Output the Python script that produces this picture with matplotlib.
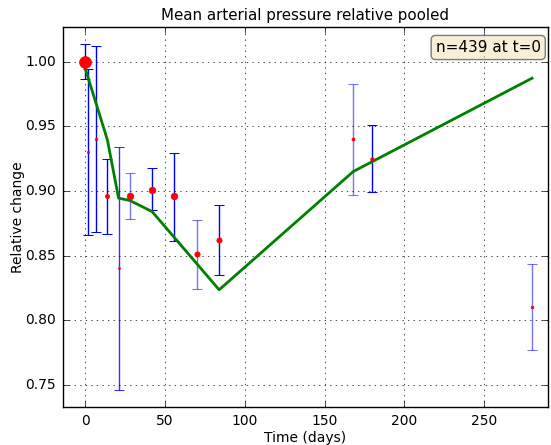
import matplotlib
matplotlib.use("Agg")
import matplotlib.pyplot as plt
import numpy as np

plt.style.use('classic')

# error-bar data
days = [0, 2, 7, 14, 21, 28, 42, 56, 70, 84, 168, 180, 280]
mean_change = [1.000, 0.930, 0.940, 0.896, 0.840, 0.896, 0.901, 0.896, 0.851, 0.862, 0.940, 0.925, 0.810]
err_low = [0.9866, 0.866, 0.868, 0.867, 0.746, 0.878, 0.8855, 0.8615, 0.8243, 0.835, 0.897, 0.899, 0.777]
err_high = [1.0139, 0.9943, 1.0124, 0.9247, 0.934, 0.9139, 0.9177, 0.9298, 0.8772, 0.8888, 0.983, 0.9515, 0.8431]

# model line
model_days = [0, 14, 21, 28, 42, 84, 168, 280]
model_change = [0.9954, 0.9396, 0.8945, 0.8927, 0.8841, 0.8235, 0.9151, 0.9874]

# styling per point
marker_sizes = [8.6, 1.6, 1.8, 3.0, 1.4, 4.8, 4.8, 4.8, 3.8, 3.8, 2.2, 2.6, 2.0]
bar_alpha = [1.0, 1.0, 1.0, 1.0, 0.8, 0.55, 1.0, 1.0, 0.55, 1.0, 0.55, 1.0, 0.55]

fig = plt.figure(figsize=(5.51, 4.45), dpi=100, facecolor='white')
ax = fig.add_axes([62.7/551, 1 - 407/445, (548 - 62.7)/551, (407 - 26.7)/445])

for x, y, lo, hi, ms, a in zip(days, mean_change, err_low, err_high, marker_sizes, bar_alpha):
    ax.errorbar([x], [y], yerr=[[y - lo], [hi - y]], fmt='none', ecolor='blue',
                elinewidth=1, capsize=0, alpha=a, zorder=2)
    ax.plot([x, x], [lo, hi], linestyle='none', marker='_', markersize=6.5,
            markeredgewidth=0.75, color='blue', markeredgecolor='blue', alpha=a, zorder=2)
    ax.plot([x], [y], 'o', color='red', markeredgecolor='red', markersize=ms, zorder=4)

ax.plot(model_days, model_change, color='green', linewidth=2, zorder=3)

ax.set_xlim(-14, 290)
ax.set_ylim(0.7327, 1.0273)
ax.set_xticks([0, 50, 100, 150, 200, 250])
ax.set_yticks([0.75, 0.80, 0.85, 0.90, 0.95, 1.00])
ax.yaxis.set_major_formatter(matplotlib.ticker.FormatStrFormatter('%.2f'))
ax.tick_params(labelsize=10, pad=5)
ax.grid(True)
ax.set_xlabel('Time (days)', fontsize=10, labelpad=2)
ax.set_ylabel('Relative change', fontsize=10, labelpad=0)
ax.set_title('Mean arterial pressure relative pooled', fontsize=10.8, pad=5)

ax.text(0.985, 0.965, 'n=439 at t=0', transform=ax.transAxes, ha='right', va='top',
        fontsize=11, bbox=dict(boxstyle='round', facecolor='wheat', alpha=0.5))

fig.savefig('out.png', dpi=100, facecolor='white')
